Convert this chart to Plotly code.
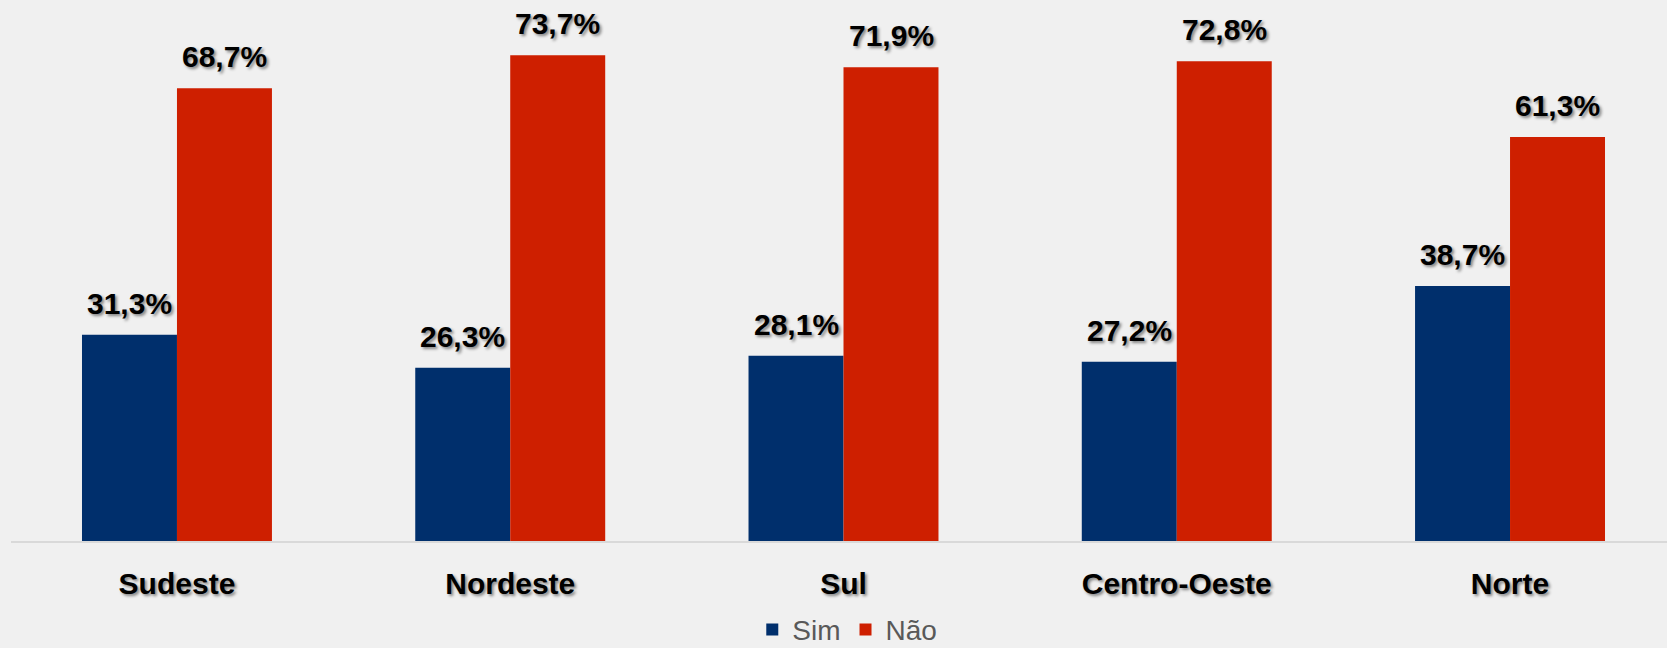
import plotly.graph_objects as go

categories = ["Sudeste", "Nordeste", "Sul", "Centro-Oeste", "Norte"]
sim = [31.3, 26.3, 28.1, 27.2, 38.7]
nao = [68.7, 73.7, 71.9, 72.8, 61.3]
series_names = ["Sim", "Não"]
colors = ["#002F6C", "#CE1F00"]

fig = go.Figure()
for name, vals, col in zip(series_names, [sim, nao], colors):
    fig.add_trace(go.Bar(x=categories, y=vals, name=name, marker=dict(color=col, line=dict(width=0))))

def fmt(v):
    return f"{v:.1f}".replace(".", ",") + "%"

shadow = "2px 2px 3px rgba(0,0,0,0.45)"
for vals, xs in [(sim, -47.5), (nao, 47.5)]:
    for c, v in zip(categories, vals):
        fig.add_annotation(x=c, y=v, text=fmt(v), showarrow=False, xshift=xs, yshift=13,
                           yanchor="bottom", xanchor="center",
                           font=dict(family="Arial, Liberation Sans", size=30, color="#000000", weight="bold", shadow=shadow))

fig.update_layout(
    width=1667, height=648,
    paper_bgcolor="#F0F0F0", plot_bgcolor="#F0F0F0",
    margin=dict(l=11, r=0, t=0, b=107),
    barmode="group", bargap=0.43, bargroupgap=0,
    showlegend=True,
    legend=dict(orientation="h", x=0.505, xanchor="center", yref="container", y=0.028, yanchor="middle",
                font=dict(family="Arial, Liberation Sans", size=28, color="#595959"),
                itemwidth=30, traceorder="normal", bgcolor="rgba(0,0,0,0)"),
    xaxis=dict(range=[-0.498, 4.471], showline=True, linecolor="#D9D9D9", linewidth=2, ticks="",
               showgrid=False, ticklabelstandoff=15,
               tickfont=dict(family="Arial, Liberation Sans", size=30, color="#000000", weight="bold", shadow=shadow)),
    yaxis=dict(range=[0, 82.1], visible=False, showgrid=False, zeroline=False),
)
fig.write_html("out.html", config={"displayModeBar": False},
               post_script="document.body.style.margin='0';document.body.style.padding='0';document.body.style.overflow='hidden';document.body.style.background='#F0F0F0';")
